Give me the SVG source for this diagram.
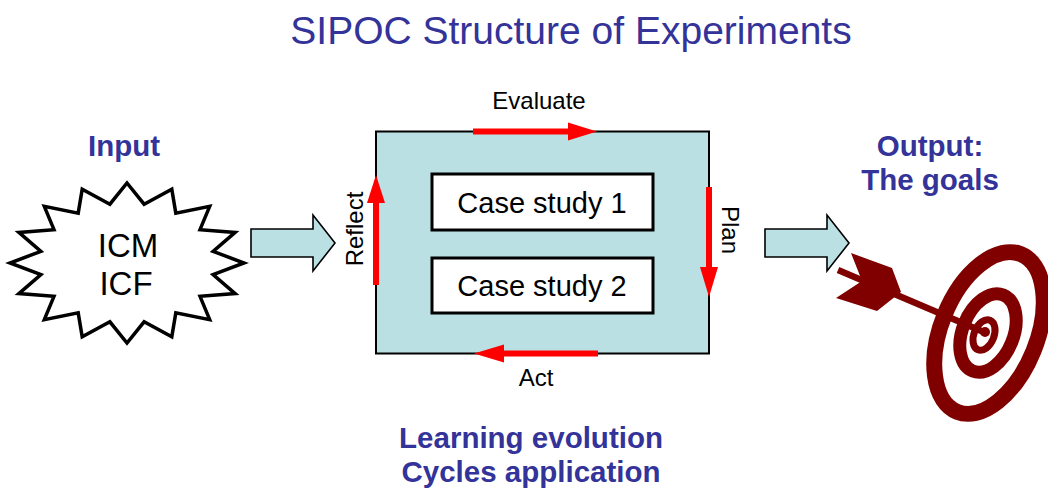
<svg xmlns="http://www.w3.org/2000/svg" width="1048" height="489" viewBox="0 0 1048 489">
  <defs>
    <style>
      text { font-family: "Liberation Sans", Arial, sans-serif; fill: #000; }
      .title { font-size: 39px; fill: #333399; text-anchor: middle; }
      .label { font-size: 29.5px; font-weight: bold; fill: #333399; text-anchor: middle; }
      .step { font-size: 24px; text-anchor: middle; }
      .case { font-size: 29px; text-anchor: middle; }
      .burst { font-size: 33px; text-anchor: middle; }
      .block { fill: #bbe0e3; stroke: #000; stroke-width: 1.6; stroke-linejoin: miter; }
      .cycle { stroke: #ff0000; stroke-width: 6; fill: none; }
      .head { fill: #ff0000; }
      .ring { fill: none; stroke: #800000; }
    </style>
    <filter id="soft" x="-10%" y="-10%" width="120%" height="120%">
      <feGaussianBlur stdDeviation="0.6"/>
    </filter>
  </defs>

  <rect width="1048" height="489" fill="#ffffff"/>

  <!-- Title -->
  <text class="title" x="571" y="44">SIPOC Structure of Experiments</text>

  <!-- Input: starburst -->
  <g id="input">
    <text class="label" x="124" y="156">Input</text>
    <polygon fill="#ffffff" stroke="#000" stroke-width="3.5" stroke-linejoin="miter"
      points="127,183 144.1,204.2 171.8,189.1 175.8,213.1 209.7,206.4 200,229.7 235.1,232.4 213.1,251.3 244,263 213.1,274.7 235.1,293.6 200,296.3 209.7,319.6 175.8,312.9 171.8,336.9 144.1,321.8 127,343 109.9,321.8 82.2,336.9 78.2,312.9 44.3,319.6 54,296.3 18.9,293.6 40.9,274.7 10,263 40.9,251.3 18.9,232.4 54,229.7 44.3,206.4 78.2,213.1 82.2,189.1 109.9,204.2"/>
    <text class="burst" x="128" y="257">ICM</text>
    <text class="burst" x="126" y="295">ICF</text>
  </g>

  <!-- Process: learning cycle box -->
  <g id="process">
    <rect x="376" y="131.5" width="333" height="222" fill="#bbe0e3" stroke="#000" stroke-width="2"/>
    <text class="label" x="531" y="448">Learning evolution</text>
    <text class="label" x="531" y="482">Cycles application</text>
  </g>

  <g id="case1">
    <rect x="432" y="174" width="221" height="56" fill="#ffffff" stroke="#000" stroke-width="3"/>
    <text class="case" x="542" y="213">Case study 1</text>
  </g>

  <g id="case2">
    <rect x="432" y="258" width="221" height="55" fill="#ffffff" stroke="#000" stroke-width="3"/>
    <text class="case" x="542" y="296">Case study 2</text>
  </g>

  <!-- Output: target -->
  <g id="output">
    <text class="label" x="930" y="156">Output:</text>
    <text class="label" x="930" y="190">The goals</text>
    <g filter="url(#soft)">
      <ellipse class="ring" cx="989" cy="333" rx="48" ry="85" stroke-width="16" transform="rotate(22 989 333)"/>
      <ellipse class="ring" cx="988" cy="333" rx="25.5" ry="41" stroke-width="13" transform="rotate(22 988 333)"/>
      <ellipse class="ring" cx="984" cy="335" rx="10" ry="16" stroke-width="7" transform="rotate(22 984 335)"/>
      <line x1="838" y1="270" x2="986" y2="333" stroke="#800000" stroke-width="6.5"/>
      <circle cx="985" cy="332" r="5" fill="#800000"/>
      <polygon fill="#800000" points="851,253 892,268 901,292 877,311 836,298 862,281"/>
    </g>
  </g>

  <!-- Connectors: flow arrows and cycle arrows -->
  <g id="connectors">
    <polygon class="block" points="251,229 313,229 313,215 335,243 313,271 313,257 251,257"/>
    <polygon class="block" points="765,229 827,229 827,215 849,243 827,271 827,257 765,257"/>

    <line class="cycle" x1="473" y1="131.5" x2="570" y2="131.5"/>
    <polygon class="head" points="568,122.5 597,131.5 568,140.5"/>
    <text class="step" x="539" y="109">Evaluate</text>

    <line class="cycle" x1="709" y1="187" x2="709" y2="269"/>
    <polygon class="head" points="700,267 709,297 718,267"/>
    <text class="step" transform="translate(721.5 230) rotate(90)">Plan</text>

    <line class="cycle" x1="598" y1="353.5" x2="502" y2="353.5"/>
    <polygon class="head" points="504,344.5 474,353.5 504,362.5"/>
    <text class="step" x="536" y="386">Act</text>

    <line class="cycle" x1="376" y1="285" x2="376" y2="201"/>
    <polygon class="head" points="367,203 376,175 385,203"/>
    <text class="step" transform="translate(363 229) rotate(-90)">Reflect</text>
  </g>
</svg>
